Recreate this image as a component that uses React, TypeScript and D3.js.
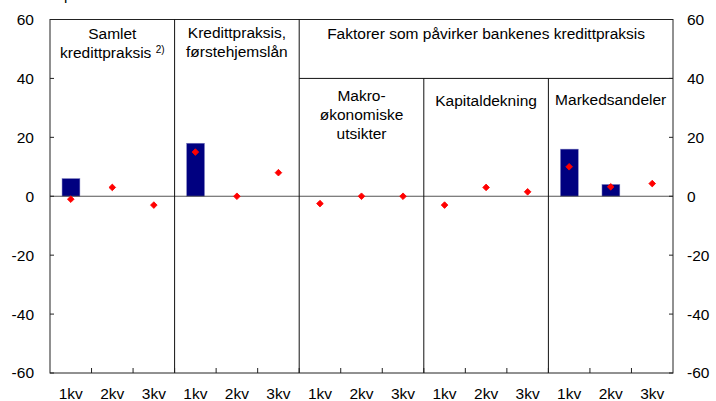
import { useEffect, useRef } from 'react';
import * as d3 from 'd3';

const quarters = ['1kv', '2kv', '3kv'];
const groupCount = 5;
// one entry per band (5 groups x 3 quarters)
const barValues: (number | null)[] = [6, null, null, 18, null, null, null, null, null, null, null, null, 16, 4, null];
const dotValues: number[] = [-1, 3, -3, 15, 0, 8, -2.5, 0, 0, -3, 3, 1.5, 10, 3.2, 4.3];
const yTicks = [-60, -40, -20, 0, 20, 40, 60];

const App: React.FC = () => {
    const svgRef = useRef<SVGSVGElement>(null);

    useEffect(() => {
        if (!svgRef.current) return;
        const svg = d3.select(svgRef.current);
        svg.selectAll('*').remove();

        const left = 50, right = 673, top = 19.5, bottom = 373;
        const font = 'Liberation Sans, Arial, sans-serif';

        const bands = d3.range(groupCount * quarters.length).map(String);
        const x = d3.scaleBand().domain(bands).range([left, right]).paddingInner(0).paddingOuter(0);
        const y = d3.scaleLinear().domain([-60, 60]).range([bottom, top]);
        const bw = x.bandwidth();
        const groupW = bw * 3;

        // top label, mostly outside the picture like in the original
        svg.append('text').attr('x', 64).attr('y', 0).attr('font-family', font).attr('font-size', 15).text('p');

        // bars
        svg.append('g').selectAll('rect')
            .data(barValues.map((v, i) => ({ v, i })).filter(d => d.v !== null))
            .join('rect')
            .attr('x', d => x(String(d.i))! + bw * 0.29)
            .attr('width', bw * 0.43)
            .attr('y', d => y(d.v as number))
            .attr('height', d => y(0) - y(d.v as number))
            .attr('fill', '#000080')
            .attr('stroke', '#8080c0')
            .attr('stroke-width', 0.5);

        // zero line
        svg.append('line').attr('x1', left).attr('x2', right).attr('y1', y(0)).attr('y2', y(0))
            .attr('stroke', '#555').attr('stroke-width', 1.2);

        // frame
        svg.append('rect').attr('x', left).attr('y', top).attr('width', right - left).attr('height', bottom - top)
            .attr('fill', 'none').attr('stroke', '#222').attr('stroke-width', 1);

        // dividers
        const div = svg.append('g').attr('stroke', '#111').attr('stroke-width', 1);
        [1, 2].forEach(g => {
            const gx = left + g * groupW;
            div.append('line').attr('x1', gx).attr('x2', gx).attr('y1', top).attr('y2', bottom);
        });
        [3, 4].forEach(g => {
            const gx = left + g * groupW;
            div.append('line').attr('x1', gx).attr('x2', gx).attr('y1', y(40)).attr('y2', bottom);
        });
        div.append('line').attr('x1', left + 2 * groupW).attr('x2', right).attr('y1', y(40)).attr('y2', y(40));

        // dots
        svg.append('g').selectAll('path')
            .data(dotValues.map((v, i) => ({ v, i })))
            .join('path')
            .attr('transform', d => `translate(${x(String(d.i))! + bw / 2},${y(d.v)}) rotate(45)`)
            .attr('d', d3.symbol(d3.symbolSquare, 22)()!)
            .attr('fill', '#ff0000')
            .attr('stroke', '#ff0000')
            .attr('stroke-width', 0.8)
            .attr('stroke-linejoin', 'round');

        // y axes
        const ax = svg.append('g').attr('font-family', font).attr('font-size', 15.5).attr('fill', '#000');
        yTicks.forEach(t => {
            ax.append('line').attr('x1', left).attr('x2', left + 4).attr('y1', y(t)).attr('y2', y(t)).attr('stroke', '#222');
            ax.append('line').attr('x1', right - 4).attr('x2', right).attr('y1', y(t)).attr('y2', y(t)).attr('stroke', '#222');
            ax.append('text').attr('x', 34).attr('y', y(t)).attr('dy', '0.35em').attr('text-anchor', 'end').text(t);
            ax.append('text').attr('x', 687).attr('y', y(t)).attr('dy', '0.35em').attr('text-anchor', 'start').text(t);
        });

        // x ticks and labels
        bands.forEach((b, i) => {
            const bx = x(b)!;
            if (i > 0) ax.append('line').attr('x1', bx).attr('x2', bx).attr('y1', bottom - 5).attr('y2', bottom).attr('stroke', '#222');
            ax.append('text').attr('x', bx + bw / 2).attr('y', 399).attr('text-anchor', 'middle')
                .text(quarters[i % 3]);
        });

        // group labels
        const lab = svg.append('g').attr('font-family', font).attr('font-size', 15.5).attr('fill', '#000').attr('text-anchor', 'middle');
        const gc = (g: number) => left + g * groupW + groupW / 2;
        lab.append('text').attr('x', gc(0)).attr('y', 39).text('Samlet');
        const t2 = lab.append('text').attr('x', gc(0)).attr('y', 58);
        t2.append('tspan').text('kredittpraksis ');
        t2.append('tspan').attr('font-size', 10).attr('dy', -5).text('2)');
        lab.append('text').attr('x', gc(1)).attr('y', 38).text('Kredittpraksis,');
        lab.append('text').attr('x', gc(1)).attr('y', 57).text('førstehjemslån');
        lab.append('text').attr('x', left + 2 * groupW + (right - left - 2 * groupW) / 2).attr('y', 39)
            .text('Faktorer som påvirker bankenes kredittpraksis');
        lab.append('text').attr('x', gc(2)).attr('y', 101).text('Makro-');
        lab.append('text').attr('x', gc(2)).attr('y', 120).text('økonomiske');
        lab.append('text').attr('x', gc(2)).attr('y', 139).text('utsikter');
        lab.append('text').attr('x', gc(3)).attr('y', 106).text('Kapitaldekning');
        lab.append('text').attr('x', gc(4)).attr('y', 105).text('Markedsandeler');
    }, []);

    return (
        <svg ref={svgRef} width={716} height={401}
            style={{ position: 'absolute', left: 0, top: 0, background: '#fff' }} />
    );
};

export default App;
